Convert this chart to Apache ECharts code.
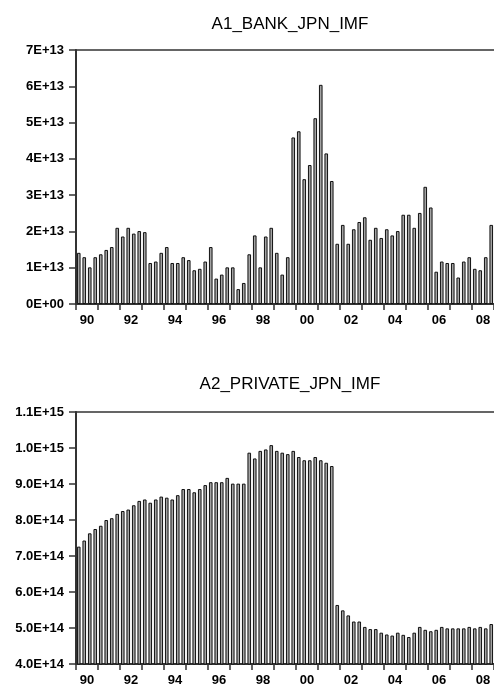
<!DOCTYPE html>
<html>
<head>
  <meta charset="utf-8">
  <title>JPN IMF</title>
  <script src="https://cdn.jsdelivr.net/npm/echarts@6/dist/echarts.min.js"></script>
</head>
<body style="margin:0;background:#fff">
<div id="main" style="width:494px;height:691px;"></div>

<script type="text/javascript">
  // year tick labels (one category per year, every other one shown)
  const years = ['90', '91', '92', '93', '94', '95', '96', '97', '98', '99',
    '00', '01', '02', '03', '04', '05', '06', '07', '08'];

  // A1_BANK_JPN_IMF, quarterly, in units of 1E+13
  const bankValues = [
    1.41, 1.29, 1.01, 1.29,
    1.37, 1.49, 1.57, 2.10,
    1.86, 2.10, 1.94, 2.01,
    1.98, 1.13, 1.17, 1.41,
    1.57, 1.13, 1.13, 1.29,
    1.21, 0.93, 0.97, 1.17,
    1.57, 0.70, 0.81, 1.01,
    1.01, 0.41, 0.58, 1.37,
    1.89, 1.01, 1.86, 2.10,
    1.41, 0.81, 1.29, 4.59,
    4.76, 3.44, 3.83, 5.12,
    6.04, 4.15, 3.39, 1.66,
    2.18, 1.66, 2.06, 2.26,
    2.39, 1.77, 2.10, 1.82,
    2.06, 1.89, 2.01, 2.46,
    2.46, 2.10, 2.51, 3.23,
    2.66, 0.89, 1.17, 1.13,
    1.13, 0.73, 1.17, 1.29,
    0.97, 0.93, 1.29, 2.18
  ];

  // A2_PRIVATE_JPN_IMF, quarterly, in units of 1E+14
  const privateValues = [
    7.26, 7.43, 7.63, 7.75,
    7.84, 8.00, 8.05, 8.17,
    8.25, 8.29, 8.41, 8.53,
    8.57, 8.48, 8.57, 8.65,
    8.62, 8.57, 8.69, 8.86,
    8.86, 8.77, 8.86, 8.97,
    9.05, 9.05, 9.05, 9.17,
    9.01, 9.01, 9.01, 9.87,
    9.71, 9.92, 9.96, 10.08,
    9.92, 9.87, 9.83, 9.92,
    9.75, 9.66, 9.66, 9.75,
    9.66, 9.59, 9.50, 5.64,
    5.49, 5.35, 5.18, 5.18,
    5.03, 4.97, 4.97, 4.87,
    4.82, 4.79, 4.87, 4.81,
    4.75, 4.87, 5.03, 4.95,
    4.91, 4.95, 5.03, 4.99,
    4.99, 4.99, 4.99, 5.03,
    4.99, 5.03, 4.99, 5.11
  ];

  const quarters = [];
  years.forEach(function (y) {
    for (let q = 1; q <= 4; q++) quarters.push(y + 'Q' + q);
  });

  const font = 'Liberation Sans, Arial, sans-serif';
  const lineCol = '#333';

  function bankLabel(v) {
    return v === 0 ? '0E+00' : Math.round(v) + 'E+13';
  }
  function privateLabel(v) {
    v = Math.round(v * 10) / 10;
    if (v >= 10) return (v / 10).toFixed(1) + 'E+15';
    return v.toFixed(1) + 'E+14';
  }

  function xAxes(g) {
    return [
      { // quarters, carries the bars
        gridIndex: g, type: 'category', data: quarters, show: false
      },
      { // years, ticks at year boundaries, labels every other year
        gridIndex: g, type: 'category', data: years, position: 'bottom',
        axisLine: {lineStyle: {color: lineCol, width: 2}},
        axisTick: {show: true, interval: 0, length: 6, lineStyle: {color: lineCol, width: 1.5}},
        axisLabel: {interval: 1, margin: 10, color: '#000', fontSize: 13, fontWeight: 'bold', fontFamily: font}
      },
      { // top frame line
        gridIndex: g, type: 'category', data: years, position: 'top',
        axisLine: {lineStyle: {color: lineCol, width: 1.5}},
        axisTick: {show: false}, axisLabel: {show: false}
      }
    ];
  }

  function yAxis(g, min, max, fmt) {
    return {
      gridIndex: g, type: 'value', min: min, max: max, interval: 1,
      axisLine: {show: true, lineStyle: {color: lineCol, width: 2}},
      axisTick: {show: true, length: 7, lineStyle: {color: lineCol, width: 1.5}},
      axisLabel: {margin: 12, color: '#000', fontSize: 13, fontWeight: 'bold', fontFamily: font, formatter: fmt},
      splitLine: {show: false}
    };
  }

  const barStyle = {color: '#a3a3a3', borderColor: '#111', borderWidth: 1};

  let myChart = echarts.init(document.getElementById('main'));
  let option = {
    animation: false,
    title: [
      {text: 'A1_BANK_JPN_IMF', left: 285, top: 11, textAlign: 'center',
        textStyle: {fontSize: 17, fontWeight: 'normal', color: '#000', fontFamily: font}},
      {text: 'A2_PRIVATE_JPN_IMF', left: 285, top: 371, textAlign: 'center',
        textStyle: {fontSize: 17, fontWeight: 'normal', color: '#000', fontFamily: font}}
    ],
    grid: [
      {left: 76, right: 0, top: 50, height: 254},
      {left: 76, right: 0, top: 412, height: 252}
    ],
    xAxis: xAxes(0).concat(xAxes(1)),
    yAxis: [
      yAxis(0, 0, 7, bankLabel),
      yAxis(1, 4, 11, privateLabel)
    ],
    series: [
      {type: 'bar', xAxisIndex: 0, yAxisIndex: 0, data: bankValues,
        barWidth: 3.6, itemStyle: barStyle},
      {type: 'bar', xAxisIndex: 3, yAxisIndex: 1, data: privateValues,
        barWidth: 3.6, itemStyle: barStyle}
    ]
  };
  myChart.setOption(option);
</script>
</body>
</html>
